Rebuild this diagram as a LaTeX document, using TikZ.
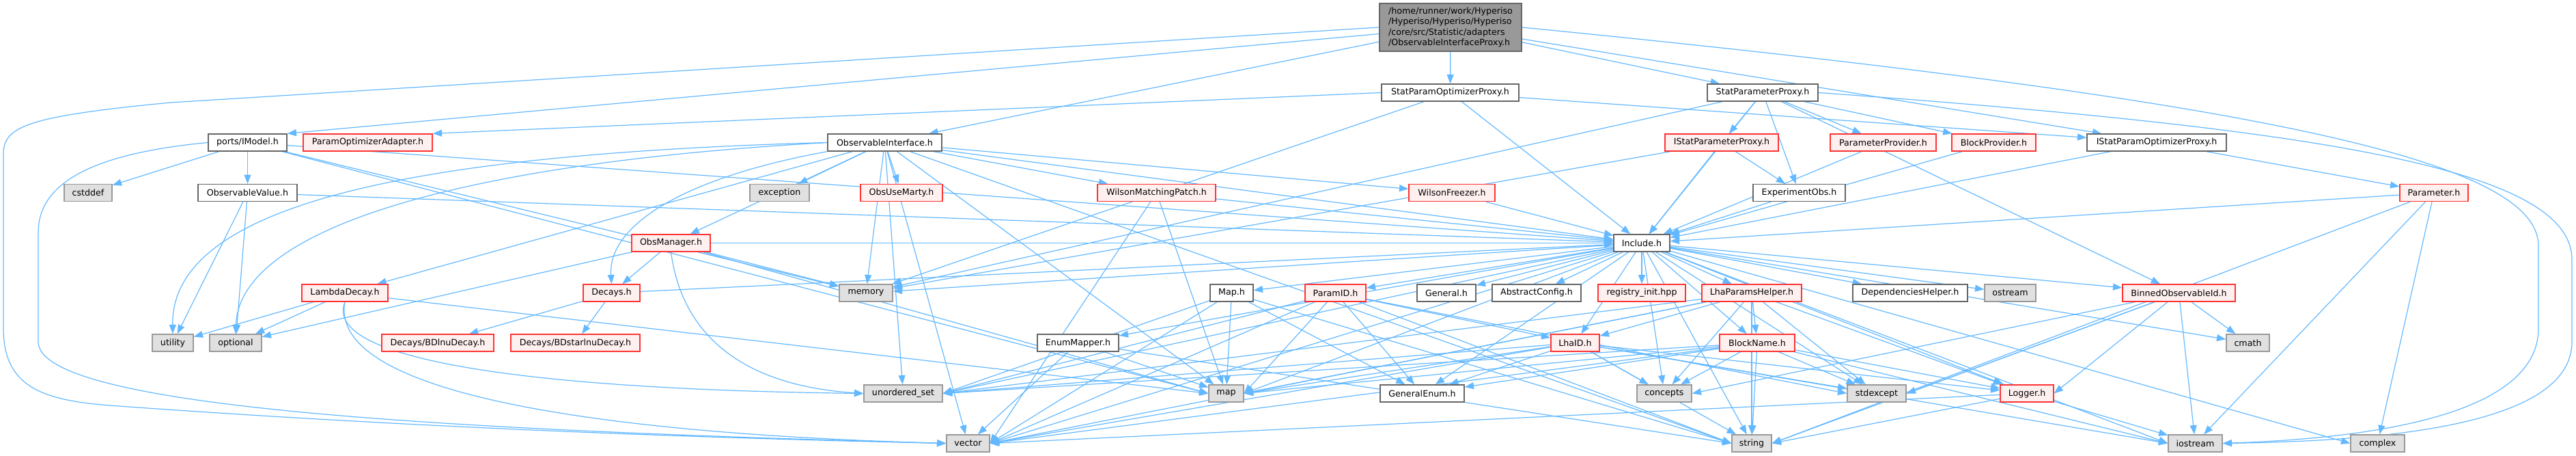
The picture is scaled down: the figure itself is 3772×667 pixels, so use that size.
\documentclass[tikz,border=0pt]{standalone}
\usepackage{fontspec}
\setsansfont{DejaVu Sans}
\usepackage{xcolor}
\usetikzlibrary{arrows.meta}

\definecolor{edgeblue}{HTML}{63B8FF}
\definecolor{boxgray}{HTML}{666666}
\definecolor{leafline}{HTML}{999999}
\definecolor{leaffill}{HTML}{E0E0E0}
\definecolor{truncline}{HTML}{FF3333}
\definecolor{truncfill}{HTML}{FFF0F0}
\definecolor{rootfill}{HTML}{999999}

\pgfdeclarelayer{edgelayer}
\pgfsetlayers{edgelayer,main}

\begin{document}
\begin{tikzpicture}[x=0.75pt,y=0.75pt,yscale=-1,xscale=1,
  hdr/.style={draw=boxgray,fill=white,line width=1pt,inner xsep=2pt,inner ysep=0pt,minimum height=18.75pt,font=\sffamily\fontsize{9.5}{11.3}\selectfont},
  leaf/.style={hdr,draw=leafline,fill=leaffill},
  trunc/.style={hdr,draw=truncline,fill=truncfill},
  root/.style={hdr,fill=rootfill,align=left},
  dep/.style={draw=edgeblue,line width=0.9pt,-{Triangle[length=10pt,width=7.5pt]}}]

\useasboundingbox (0,0) rectangle (3772,667);

% row 0 and 1
\node [root, minimum width=156pt, minimum height=52.5pt] (main) at (2124,40) {/home/runner/work/Hyperiso\\/Hyperiso/Hyperiso/Hyperiso\\/core/src/Statistic/adapters\\/ObservableInterfaceProxy.h};
\node [hdr, minimum width=150.75pt] (sopt) at (2123.5,135.5) {StatParamOptimizerProxy.h};
\node [hdr, minimum width=121.5pt] (spp) at (2581,135.5) {StatParameterProxy.h};

% row 2
\node [hdr, minimum width=86.25pt] (imodel) at (362.5,208.5) {ports/IModel.h};
\node [trunc, minimum width=141.75pt] (poa) at (538.5,208.5) {ParamOptimizerAdapter.h};
\node [hdr, minimum width=125.25pt] (obsif) at (1295.5,208.5) {ObservableInterface.h};
\node [trunc, minimum width=124.5pt] (ispp) at (2521,208.5) {IStatParameterProxy.h};
\node [trunc, minimum width=116.25pt] (pprov) at (2757.5,208.5) {ParameterProvider.h};
\node [trunc, minimum width=92.25pt] (bprov) at (2919.5,208.5) {BlockProvider.h};
\node [hdr, minimum width=153pt] (isopt) at (3158,208.5) {IStatParamOptimizerProxy.h};

% row 3
\node [leaf, minimum width=52.5pt] (cstddef) at (129,282) {cstddef};
\node [hdr, minimum width=108.75pt] (obsval) at (362.5,282) {ObservableValue.h};
\node [leaf, minimum width=65.25pt] (exception) at (1141.5,282) {exception};
\node [trunc, minimum width=90pt] (obsmarty) at (1320,282) {ObsUseMarty.h};
\node [trunc, minimum width=129.75pt] (wmp) at (1693.5,282) {WilsonMatchingPatch.h};
\node [trunc, minimum width=94.5pt] (wfreeze) at (2126,282) {WilsonFreezer.h};
\node [hdr, minimum width=101.25pt] (expobs) at (2634.5,282) {ExperimentObs.h};
\node [trunc, minimum width=75pt] (param) at (3564,282) {Parameter.h};

% row 4
\node [trunc, minimum width=86.25pt] (obsman) at (982.5,355.5) {ObsManager.h};
\node [hdr, minimum width=61.5pt] (include) at (2404,355.5) {Include.h};

% row 5
\node [trunc, minimum width=94.5pt] (lambda) at (505,428.5) {LambdaDecay.h};
\node [trunc, minimum width=62.25pt] (decays) at (895.5,428.5) {Decays.h};
\node [leaf, minimum width=58.5pt] (memory) at (1268,428.5) {memory};
\node [hdr, minimum width=47.25pt] (mapH) at (1803.5,428.5) {Map.h};
\node [trunc, minimum width=66.75pt] (paramid) at (1955.5,428.5) {ParamID.h};
\node [hdr, minimum width=64.5pt] (general) at (2118,428.5) {General.h};
\node [hdr, minimum width=97.5pt] (absconf) at (2250,428.5) {AbstractConfig.h};
\node [trunc, minimum width=96pt] (registry) at (2404,428.5) {registry\_init.hpp};
\node [trunc, minimum width=109.5pt] (lhaph) at (2565,428.5) {LhaParamsHelper.h};
\node [hdr, minimum width=126pt] (dephelp) at (2797,428.5) {DependenciesHelper.h};
\node [leaf, minimum width=56.25pt] (ostream) at (2943.5,428.5) {ostream};
\node [trunc, minimum width=123.75pt] (binned) at (3190.5,428.5) {BinnedObservableId.h};

% row 6
\node [leaf, minimum width=45pt] (utility) at (253,501.5) {utility};
\node [leaf, minimum width=57pt] (optional) at (345,501.5) {optional};
\node [trunc, minimum width=123pt] (bdlnu) at (641,501.5) {Decays/BDlnuDecay.h};
\node [trunc, minimum width=141.75pt] (bdstar) at (842.5,501.5) {Decays/BDstarlnuDecay.h};
\node [hdr, minimum width=89.25pt] (enummap) at (1578.5,501.5) {EnumMapper.h};
\node [trunc, minimum width=53.25pt] (lhaid) at (2306.5,501.5) {LhaID.h};
\node [trunc, minimum width=82.5pt] (blockname) at (2573,501.5) {BlockName.h};
\node [leaf, minimum width=47.25pt] (cmath) at (3291.5,501.5) {cmath};

% row 7
\node [leaf, minimum width=86.25pt] (uset) at (1322.5,575.5) {unordered\_set};
\node [leaf, minimum width=38.25pt] (mapstd) at (1795.5,575.5) {map};
\node [hdr, minimum width=92.25pt] (genenum) at (2082.5,575.5) {GeneralEnum.h};
\node [leaf, minimum width=60pt] (concepts) at (2437,575.5) {concepts};
\node [leaf, minimum width=64.5pt] (stdexcept) at (2748,575.5) {stdexcept};
\node [trunc, minimum width=58.5pt] (logger) at (2968,575.5) {Logger.h};

% row 8
\node [leaf, minimum width=47.25pt] (vector) at (1417.5,648.5) {vector};
\node [leaf, minimum width=43.5pt] (string) at (2565,648.5) {string};
\node [leaf, minimum width=59.25pt] (iostream) at (3214.5,648.5) {iostream};
\node [leaf, minimum width=59.25pt] (complex) at (3481.5,648.5) {complex};

\begin{pgfonlayer}{edgelayer}
% root
\draw [dep] (main) -- (sopt);
\draw [dep] (main) -- (spp);
\draw [dep] (main) -- (isopt);
\draw [dep] (main) -- (imodel.north east);
\draw [dep] (main) -- (obsif);
\draw [dep] (main.west) -- (250,150) .. controls (40,170) and (5,185) .. (5,225) -- (5,480) .. controls (5,565) and (60,585) .. (160,593) .. controls (600,625) and (1000,640) .. (vector.west);
\draw [dep] (main.east) .. controls (3350,150) and (3717,240) .. (3717,360) -- (3717,480) .. controls (3717,600) and (3500,640) .. (iostream.east);

% proxies
\draw [dep] (sopt.west) -- (poa.north east);
\draw [dep] (sopt) -- (isopt);
\draw [dep] (sopt) -- (include);
\draw [dep] (sopt) -- (memory);
\draw [dep] (spp) -- (ispp);
\draw [dep] (spp) -- (expobs);
\draw [dep] (spp) -- (pprov);
\draw [dep] (spp) -- (bprov);
\draw [dep] (spp) -- (include);
\draw [dep] (spp) -- (binned);
\draw [dep] (spp) -- (memory);
\draw [dep] (spp.east) .. controls (3420,190) and (3766,250) .. (3766,380) -- (3766,500) .. controls (3766,625) and (3480,645) .. (iostream.east);
\draw [dep] (ispp) -- (expobs);
\draw [dep] (ispp) -- (include);
\draw [dep] (ispp) -- (memory);
\draw [dep] (pprov) -- (include);
\draw [dep] (bprov) -- (include);
\draw [dep] (expobs) -- (include);
\draw [dep] (isopt) -- (param);
\draw [dep] (isopt) -- (include);
\draw [dep] (param) -- (include);
\draw [dep] (param) -- (string.east);
\draw [dep] (param) -- (iostream);
\draw [dep] (param) -- (complex);

% model side
\draw [dep] (imodel) -- (cstddef);
\draw [dep] (imodel) -- (obsval);
\draw [dep] (imodel) -- (include);
\draw [dep] (imodel) -- (memory);
\draw [dep] (imodel) -- (mapstd.west);
\draw [dep] (imodel.west) .. controls (130,225) and (56,270) .. (56,340) -- (56,500) .. controls (56,600) and (700,630) .. (vector.west);
\draw [dep] (obsval) -- (utility);
\draw [dep] (obsval) -- (optional);
\draw [dep] (obsval) -- (include);

% observable interface
\draw [dep] (obsif) -- (exception);
\draw [dep] (obsif) -- (obsmarty);
\draw [dep] (obsif) -- (wmp);
\draw [dep] (obsif) -- (wfreeze);
\draw [dep] (obsif) -- (obsman);
\draw [dep] (obsif) -- (lambda);
\draw [dep] (obsif.south west) .. controls (1000,260) and (890,330) .. (decays.north);
\draw [dep] (obsif.west) .. controls (600,225) and (250,300) .. (utility.north);
\draw [dep] (obsif.west) .. controls (650,240) and (350,340) .. (optional.north);
\draw [dep] (obsif) -- (memory);
\draw [dep] (obsif) -- (include);
\draw [dep] (obsif) -- (vector);
\draw [dep] (obsif) -- (mapstd);
\draw [dep] (obsif) -- (string.west);
\draw [dep] (obsif) -- (uset);
\draw [dep] (wmp) -- (include);
\draw [dep] (wmp) -- (vector.east);
\draw [dep] (wmp) -- (mapstd);
\draw [dep] (wfreeze) -- (include);
\draw [dep] (obsman) -- (decays);
\draw [dep] (obsman) -- (memory);
\draw [dep] (obsman) -- (include);
\draw [dep] (obsman) -- (mapstd.west);
\draw [dep] (obsman.south) .. controls (1000,500) and (1100,565) .. (uset.west);
\draw [dep] (obsman) -- (optional);
\draw [dep] (lambda) -- (utility);
\draw [dep] (lambda) -- (optional);
\draw [dep] (lambda.south) .. controls (470,530) and (800,570) .. (uset.west);
\draw [dep] (lambda.south) .. controls (480,580) and (900,635) .. (vector.west);
\draw [dep] (lambda) -- (mapstd.west);
\draw [dep] (decays) -- (bdlnu);
\draw [dep] (decays) -- (bdstar);
\draw [dep] (decays) -- (include);

% Include.h
\draw [dep] (include) -- (general);
\draw [dep] (include) -- (absconf);
\draw [dep] (include) -- (registry);
\draw [dep] (include) -- (paramid);
\draw [dep] (include) -- (mapH);
\draw [dep] (include) -- (memory);
\draw [dep] (include) -- (enummap);
\draw [dep] (include) -- (lhaph);
\draw [dep] (include) -- (dephelp);
\draw [dep] (include) -- (ostream);
\draw [dep] (include) -- (binned);
\draw [dep] (include) -- (cmath);
\draw [dep] (include) -- (complex.west);
\draw [dep] (include) -- (iostream.west);
\draw [dep] (include) -- (string);
\draw [dep] (include) -- (vector.east);
\draw [dep] (include) -- (mapstd.east);
\draw [dep] (include) -- (uset.east);
\draw [dep] (include) -- (concepts);
\draw [dep] (include) -- (stdexcept);
\draw [dep] (include) -- (logger);
\draw [dep] (include) -- (blockname);
\draw [dep] (include) -- (lhaid);
\draw [dep] (include) -- (genenum);

% ids and helpers
\draw [dep] (paramid) -- (lhaid);
\draw [dep] (paramid) -- (genenum);
\draw [dep] (paramid) -- (mapstd.east);
\draw [dep] (paramid) -- (uset.east);
\draw [dep] (paramid) -- (vector.east);
\draw [dep] (paramid) -- (string.west);
\draw [dep] (paramid) -- (stdexcept.west);
\draw [dep] (mapH) -- (mapstd);
\draw [dep] (mapH) -- (vector.east);
\draw [dep] (mapH) -- (string.west);
\draw [dep] (mapH) -- (genenum);
\draw [dep] (mapH) -- (uset.east);
\draw [dep] (enummap) -- (mapstd);
\draw [dep] (enummap) -- (vector);
\draw [dep] (enummap) -- (string.west);
\draw [dep] (lhaid) -- (genenum);
\draw [dep] (lhaid) -- (concepts);
\draw [dep] (lhaid) -- (logger);
\draw [dep] (lhaid) -- (stdexcept);
\draw [dep] (lhaid) -- (mapstd.east);
\draw [dep] (lhaid) -- (uset.east);
\draw [dep] (lhaid) -- (vector.east);
\draw [dep] (lhaid) -- (string);
\draw [dep] (lhaid) -- (iostream.west);
\draw [dep] (lhaph) -- (blockname);
\draw [dep] (lhaph) -- (lhaid);
\draw [dep] (lhaph) -- (stdexcept);
\draw [dep] (lhaph) -- (logger);
\draw [dep] (lhaph) -- (string);
\draw [dep] (lhaph) -- (mapstd.east);
\draw [dep] (lhaph) -- (concepts);
\draw [dep] (lhaph) -- (uset.east);
\draw [dep] (lhaph) -- (vector.east);
\draw [dep] (blockname) -- (string);
\draw [dep] (blockname) -- (stdexcept);
\draw [dep] (blockname) -- (logger);
\draw [dep] (blockname) -- (mapstd.east);
\draw [dep] (blockname) -- (uset.east);
\draw [dep] (blockname) -- (concepts);
\draw [dep] (blockname) -- (genenum);
\draw [dep] (blockname) -- (vector.east);
\draw [dep] (blockname) -- (iostream.west);
\draw [dep] (logger) -- (string.east);
\draw [dep] (logger) -- (iostream);
\draw [dep] (logger) -- (vector.east);
\draw [dep] (binned) -- (cmath);
\draw [dep] (binned) -- (iostream);
\draw [dep] (binned) -- (stdexcept.east);
\draw [dep] (binned) -- (string.east);
\draw [dep] (binned) -- (logger.east);
\draw [dep] (binned) -- (concepts.east);
\end{pgfonlayer}

\end{tikzpicture}
\end{document}
